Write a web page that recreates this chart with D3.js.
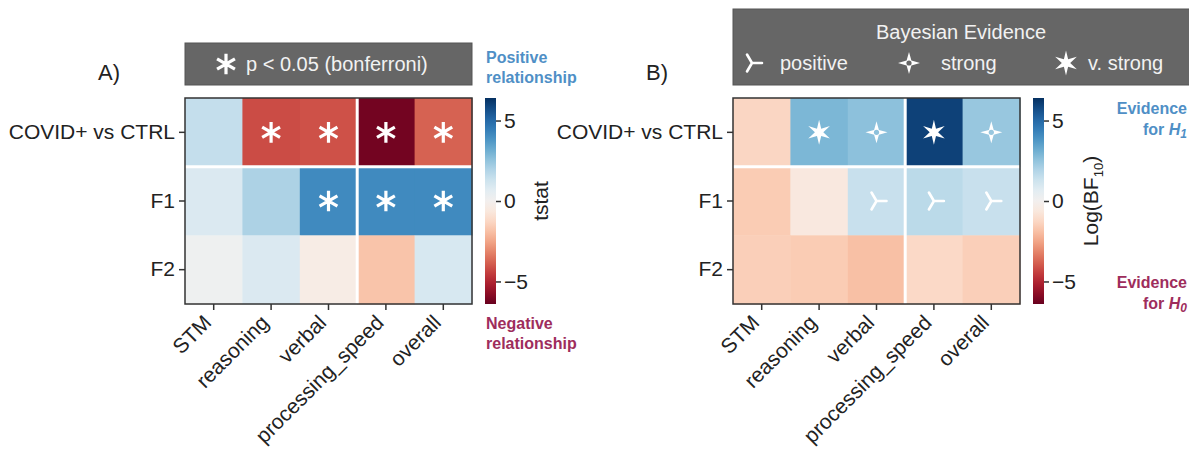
<!DOCTYPE html>
<html>
  <head>
    <meta charset="utf-8">
    <title>tstat and Bayesian evidence heatmaps</title>
    <script src="https://d3js.org/d3.v7.min.js"></script>
    <style>
      body { margin: 0; background: #fff; }
      svg { display: block; font-family: "Liberation Sans", Arial, sans-serif; }
      .rowLabel, .colLabel, .cbarLabel, .cbarTitle { fill: #222; font-size: 21px; }
      .panelLabel { fill: #222; font-size: 22px; }
      .boxText { fill: #f2f2f2; font-size: 20px; }
      .note { font-size: 16px; font-weight: bold; }
      .pos { fill: #4f8fc6; }
      .neg { fill: #9e2d5c; }
    </style>
  </head>
  <body>
    <svg id="chart" width="1189" height="452"></svg>
    <script>
      // data
      tests = ["STM", "reasoning", "verbal", "processing_speed", "overall"];
      contrasts = ["COVID+ vs CTRL", "F1", "F2"];
      tstat = [
        [1.5, -4.2, -4.1, -6.2, -3.8],
        [0.9, 2.0, 4.1, 4.1, 4.1],
        [0.2, 0.9, -0.4, -1.8, 1.0]
      ];
      significant = [
        [false, true, true, true, true],
        [false, false, true, true, true],
        [false, false, false, false, false]
      ];
      logBF = [
        [-1.3, 2.9, 2.6, 6.0, 2.4],
        [-1.6, -0.6, 1.4, 1.7, 1.4],
        [-1.5, -1.6, -1.9, -1.2, -1.5]
      ];
      evidence = [
        [null, "vstrong", "strong", "vstrong", "strong"],
        [null, null, "positive", "positive", "positive"],
        [null, null, null, null, null]
      ];
      cbarTicks = [-5, 0, 5];
      cbarDomain = [-6.4, 6.4];
      evidenceLevels = [["positive", "positive"], ["strong", "strong"], ["vstrong", "v. strong"]];

      svg = d3.select("#chart");
      colour = d3.scaleSequential(d3.interpolateRdBu).domain(cbarDomain);

      // marker shapes
      function starPath(points, outer, inner) {
        let pts = d3.range(points * 2).map(function(i) {
          let a = Math.PI * i / points - Math.PI / 2;
          let r = i % 2 ? inner : outer;
          return [r * Math.cos(a), r * Math.sin(a)];
        });
        return d3.line()(pts) + "Z";
      }
      function drawMarker(g, kind, bg) {
        if (kind === "asterisk") {
          g.append("path")
            .attr("d", d3.symbol(d3.symbolAsterisk, 300)())
            .attr("stroke", "#fff")
            .attr("stroke-width", 3.2)
            .attr("fill", "none");
        } else if (kind === "positive") {
          g.append("path")
            .attr("d", "M0,0L10,0M0,0L-5,-8.5M0,0L-5,8.5")
            .attr("stroke", "#fff")
            .attr("stroke-width", 2.6)
            .attr("stroke-linecap", "round")
            .attr("fill", "none");
        } else if (kind === "strong") {
          g.append("path")
            .attr("d", starPath(4, 11, 3.4))
            .attr("fill", "#fff");
          g.append("circle")
            .attr("r", 2.6)
            .attr("fill", bg);
        } else if (kind === "vstrong") {
          g.append("path")
            .attr("d", starPath(6, 12.5, 4.2))
            .attr("fill", "#fff");
        }
      }

      function drawPanel(p) {
        let panel = svg.append("g");
        let x = d3.scaleBand().domain(tests).range([p.left, p.left + 287]);
        let y = d3.scaleBand().domain(contrasts).range([98, 304]);
        // cells
        contrasts.forEach(function(c, i) {
          tests.forEach(function(t, j) {
            let fill = colour(p.values[i][j]);
            panel.append("rect")
              .attr("x", x(t))
              .attr("y", y(c))
              .attr("width", x.bandwidth() + 0.5)
              .attr("height", y.bandwidth() + 0.5)
              .attr("fill", fill);
            let m = p.marker(i, j);
            if (m) {
              let g = panel.append("g")
                .attr("transform", "translate(" + (x(t) + x.bandwidth() / 2) + "," + (y(c) + y.bandwidth() / 2) + ")");
              drawMarker(g, m, fill);
            }
          });
        });
        // white separators
        panel.append("line")
          .attr("x1", p.left).attr("x2", p.left + 287)
          .attr("y1", y("F1")).attr("y2", y("F1"))
          .attr("stroke", "#fff").attr("stroke-width", 3);
        panel.append("line")
          .attr("x1", x("processing_speed")).attr("x2", x("processing_speed"))
          .attr("y1", 98).attr("y2", 304)
          .attr("stroke", "#fff").attr("stroke-width", 3);
        panel.append("rect")
          .attr("x", p.left).attr("y", 98)
          .attr("width", 287).attr("height", 206)
          .attr("fill", "none")
          .attr("stroke", "#333")
          .attr("stroke-width", 1.5);
        // axes
        let yAxis = panel.append("g")
          .attr("transform", "translate(" + p.left + ",0)")
          .call(d3.axisLeft(y).tickSize(6).tickPadding(4));
        yAxis.select(".domain").remove();
        yAxis.selectAll("line").attr("stroke", "#333").attr("stroke-width", 1.5);
        yAxis.selectAll("text").attr("class", "rowLabel").attr("font-size", null).attr("font-family", null);
        let xAxis = panel.append("g")
          .attr("transform", "translate(0,304)")
          .call(d3.axisBottom(x).tickSize(6));
        xAxis.select(".domain").remove();
        xAxis.selectAll("line").attr("stroke", "#333").attr("stroke-width", 1.5);
        xAxis.selectAll("text")
          .attr("class", "colLabel")
          .attr("font-size", null).attr("font-family", null)
          .attr("text-anchor", "end")
          .attr("dy", 0)
          .attr("y", 0)
          .attr("transform", "translate(-1,20) rotate(-45)");
        // colour bar
        let cx = p.left + 300;
        let cy = d3.scaleLinear().domain(cbarDomain).range([304, 98]);
        let grad = svg.append("defs").append("linearGradient")
          .attr("id", p.id + "Grad")
          .attr("x1", "0%").attr("x2", "0%").attr("y1", "100%").attr("y2", "0%");
        grad.selectAll("stop")
          .data(d3.range(21))
          .enter().append("stop")
            .attr("offset", function(d) { return d * 5 + "%"; })
            .attr("stop-color", function(d) { return colour(cbarDomain[0] + (cbarDomain[1] - cbarDomain[0]) * d / 20); });
        panel.append("rect")
          .attr("x", cx).attr("y", 98)
          .attr("width", 11).attr("height", 206)
          .attr("fill", "url(#" + p.id + "Grad)");
        let cAxis = panel.append("g")
          .attr("transform", "translate(" + (cx + 11) + ",0)")
          .call(d3.axisRight(cy).tickValues(cbarTicks).tickSize(5).tickPadding(3).tickFormat(d3.format("d")));
        cAxis.select(".domain").remove();
        cAxis.selectAll("line").attr("stroke", "#333").attr("stroke-width", 1.5);
        cAxis.selectAll("text").attr("class", "cbarLabel").attr("font-size", null).attr("font-family", null);
        let title = panel.append("text")
          .attr("class", "cbarTitle")
          .attr("text-anchor", "middle")
          .attr("transform", "translate(" + (cx + p.titleOffset) + ",201) rotate(-90)");
        p.title(title);
        // panel letter
        panel.append("text")
          .attr("class", "panelLabel")
          .attr("x", p.left - 87)
          .attr("y", 80)
          .text(p.letter);
        return panel;
      }

      // panel A
      panelA = drawPanel({
        id: "a", left: 185, letter: "A)", values: tstat, titleOffset: 56,
        marker: function(i, j) { return significant[i][j] ? "asterisk" : null; },
        title: function(t) { t.attr("dy", "0.35em").text("tstat"); }
      });
      panelA.append("rect")
        .attr("x", 185).attr("y", 43)
        .attr("width", 287).attr("height", 42)
        .attr("fill", "#666").attr("stroke", "#555");
      keyA = panelA.append("g").attr("transform", "translate(226,64)");
      drawMarker(keyA, "asterisk", "#666");
      panelA.append("text")
        .attr("class", "boxText")
        .attr("x", 246).attr("y", 71)
        .text("p < 0.05 (bonferroni)");
      panelA.append("text").attr("class", "note pos").attr("x", 486).attr("y", 63).text("Positive");
      panelA.append("text").attr("class", "note pos").attr("x", 486).attr("y", 83).text("relationship");
      panelA.append("text").attr("class", "note neg").attr("x", 486).attr("y", 329).text("Negative");
      panelA.append("text").attr("class", "note neg").attr("x", 486).attr("y", 349).text("relationship");

      // panel B
      panelB = drawPanel({
        id: "b", left: 733, letter: "B)", values: logBF, titleOffset: 58,
        marker: function(i, j) { return evidence[i][j]; },
        title: function(t) {
          t.attr("dy", "0.35em").text("Log(BF");
          t.append("tspan").attr("font-size", "13px").attr("dy", "5").text("10");
          t.append("tspan").attr("dy", "-5").text(")");
        }
      });
      panelB.append("rect")
        .attr("x", 733).attr("y", 9)
        .attr("width", 470).attr("height", 76)
        .attr("fill", "#666").attr("stroke", "#555");
      panelB.append("text")
        .attr("class", "boxText")
        .attr("x", 961).attr("y", 39)
        .attr("text-anchor", "middle")
        .text("Bayesian Evidence");
      keyX = d3.scalePoint().domain(evidenceLevels.map(function(d) { return d[0]; })).range([752, 1066]);
      evidenceLevels.forEach(function(d) {
        let g = panelB.append("g").attr("transform", "translate(" + keyX(d[0]) + ",63)");
        drawMarker(g, d[0], "#666");
        panelB.append("text")
          .attr("class", "boxText")
          .attr("x", keyX(d[0]) + (d[0] === "positive" ? 28 : d[0] === "strong" ? 32 : 22))
          .attr("y", 70)
          .text(d[1]);
      });
      function evidenceNote(y, cls, sub) {
        let t1 = panelB.append("text").attr("class", "note " + cls)
          .attr("x", 1187).attr("y", y).attr("text-anchor", "end").text("Evidence");
        let t2 = panelB.append("text").attr("class", "note " + cls)
          .attr("x", 1187).attr("y", y + 21).attr("text-anchor", "end");
        t2.append("tspan").text("for ");
        t2.append("tspan").attr("font-style", "italic").text("H");
        t2.append("tspan").attr("font-style", "italic").attr("font-size", "12px").attr("dy", 3).text(sub);
      }
      evidenceNote(114, "pos", "1");
      evidenceNote(288, "neg", "0");
    </script>
  </body>
</html>
